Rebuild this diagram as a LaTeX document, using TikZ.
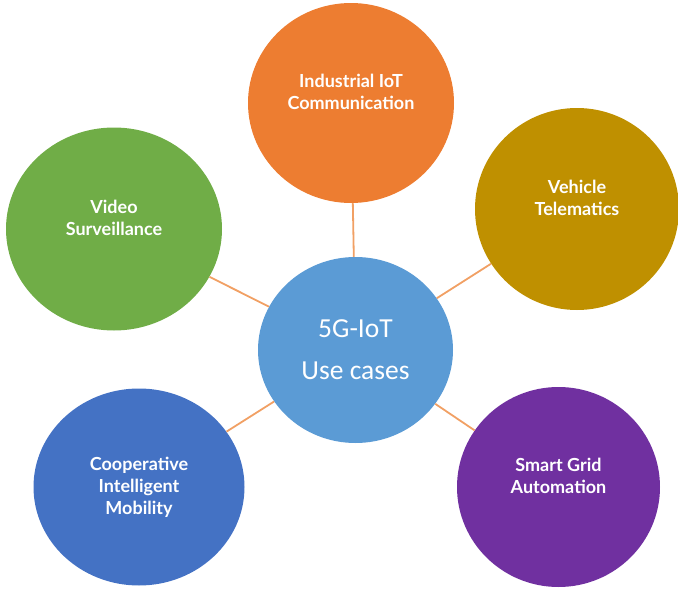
\documentclass[tikz,border=0pt]{standalone}
\usepackage{fontspec}
\setmainfont{Lato}
\newfontfamily\hubfont{Carlito}
\usetikzlibrary{shapes.geometric}
\definecolor{CaseGreen}{RGB}{112,173,71}
\definecolor{CaseOrange}{RGB}{237,125,49}
\definecolor{CaseGold}{RGB}{191,144,0}
\definecolor{CaseBlue}{RGB}{68,114,196}
\definecolor{CasePurple}{RGB}{112,48,160}
\definecolor{HubBlue}{RGB}{91,155,213}
\definecolor{LinkOrange}{RGB}{241,160,100}

\begin{document}
\begin{tikzpicture}[x=1pt, y=-1pt,
  usecase/.style={ellipse, inner sep=0pt},
  caselabel/.style={white, align=center, font=\fontsize{18}{22}\selectfont\bfseries},
  link/.style={LinkOrange, line width=1.8pt}]
  \useasboundingbox (0,0) rectangle (678,589);

  % Hub
  \node[usecase, fill=HubBlue, minimum width=195pt, minimum height=186pt] (hub) at (355.5,350) {};
  \node[white, align=center, font=\hubfont\fontsize{27.5}{42}\selectfont] (hub-t) at (hub.center) {5G-IoT\\Use cases};

  % Use cases around the hub
  \node[usecase, fill=CaseOrange, minimum width=206pt, minimum height=200pt] (iot) at (351,103) {};
  \node[usecase, fill=CaseGold, minimum width=204pt, minimum height=202pt] (car) at (577,209) {};
  \node[usecase, fill=CaseGreen, minimum width=216pt, minimum height=203pt] (video) at (114,229) {};
  \node[usecase, fill=CaseBlue, minimum width=211pt, minimum height=197pt] (mobility) at (139,487) {};
  \node[usecase, fill=CasePurple, minimum width=203pt, minimum height=200pt] (grid) at (558.5,487) {};

  % Labels
  \node[caselabel] (iot-t) at ([yshift=11pt]iot.center) {Industrial IoT\\Communication};
  \node[caselabel] (car-t) at ([yshift=11pt]car.center) {Vehicle\\Telematics};
  \node[caselabel] (video-t) at ([yshift=11pt]video.center) {Video\\Surveillance};
  \node[caselabel] (mobility-t) at (mobility.center) {Cooperative\\Intelligent\\Mobility};
  \node[caselabel] (grid-t) at ([yshift=11pt]grid.center) {Smart Grid\\Automation};

  % Links
  \draw[link] (hub) -- (iot);
  \draw[link] (hub) -- (car);
  \draw[link] (hub) -- (video);
  \draw[link] (hub) -- (mobility);
  \draw[link] (hub) -- (grid);
\end{tikzpicture}
\end{document}
